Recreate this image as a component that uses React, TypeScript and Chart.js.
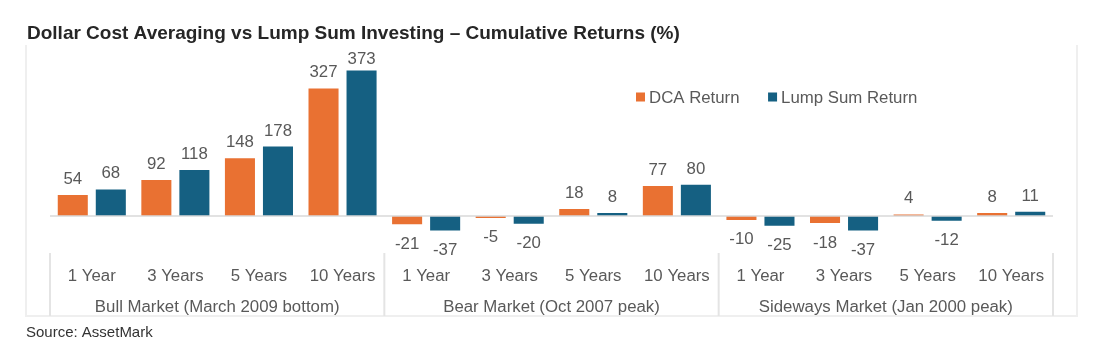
import { useEffect, useRef } from "react";
import { Chart, registerables } from "chart.js";

Chart.register(...registerables);

const titleText = "Dollar Cost Averaging vs Lump Sum Investing – Cumulative Returns (%)";
const sourceText = "Source: AssetMark";
const periods = ["1 Year", "3 Years", "5 Years", "10 Years"];
const markets = [
  "Bull Market (March 2009 bottom)",
  "Bear Market (Oct 2007 peak)",
  "Sideways Market (Jan 2000 peak)",
];
const seriesNames = ["DCA Return", "Lump Sum Return"];
const dcaReturn = [54, 92, 148, 327, -21, -5, 18, 77, -10, -18, 4, 8];
const lumpSumReturn = [68, 118, 178, 373, -37, -20, 8, 80, -25, -37, -12, 11];
const seriesColors = ["#E97132", "#156082"];

const categories: string[] = [];
markets.forEach((m) => periods.forEach((p) => categories.push(m + " | " + p)));

const FONT = "'Liberation Sans', Arial, sans-serif";
const TEXT = "#595959";
const SX = 1.05;

function stretchText(
  ctx: CanvasRenderingContext2D,
  text: string,
  x: number,
  y: number
) {
  ctx.save();
  ctx.translate(x, y);
  ctx.scale(SX, 1);
  ctx.fillText(text, 0, 0);
  ctx.restore();
}

const decorPlugin = {
  id: "decor",
  afterDatasetsDraw(chart: any) {
    const ctx = chart.ctx as CanvasRenderingContext2D;
    const xs = chart.scales.x;
    const ys = chart.scales.y;
    const zeroY = ys.getPixelForValue(0);
    const n = categories.length;
    const catW = (xs.right - xs.left) / n;
    const left = xs.left;
    const right = xs.right;
    ctx.save();

    // outer frame (left, right, bottom)
    ctx.strokeStyle = "#EFEFEF";
    ctx.lineWidth = 2;
    ctx.beginPath();
    ctx.moveTo(26, 45);
    ctx.lineTo(26, 316);
    ctx.lineTo(1077, 316);
    ctx.lineTo(1077, 45);
    ctx.stroke();

    // zero line
    ctx.strokeStyle = "#D9D9D9";
    ctx.lineWidth = 1.5;
    ctx.beginPath();
    ctx.moveTo(left, zeroY);
    ctx.lineTo(right, zeroY);
    ctx.stroke();

    // group separators
    ctx.strokeStyle = "#E4E4E4";
    ctx.lineWidth = 2;
    for (let g = 0; g <= markets.length; g++) {
      const x = left + g * periods.length * catW;
      ctx.beginPath();
      ctx.moveTo(x, 253);
      ctx.lineTo(x, 316);
      ctx.stroke();
    }

    // data labels
    ctx.fillStyle = TEXT;
    ctx.font = `16px ${FONT}`;
    ctx.textAlign = "center";
    ctx.textBaseline = "alphabetic";
    chart.data.datasets.forEach((ds: any, di: number) => {
      const meta = chart.getDatasetMeta(di);
      meta.data.forEach((bar: any, i: number) => {
        const v = ds.data[i];
        const y = v >= 0 ? Math.max(bar.y - 11, 64) : bar.y + 24.5;
        stretchText(ctx, String(v), bar.x, y);
      });
    });

    // category labels
    for (let i = 0; i < n; i++) {
      const x = xs.getPixelForValue(i);
      stretchText(ctx, periods[i % periods.length], x, 280.5);
    }
    // group labels
    markets.forEach((m, g) => {
      const x = left + (g + 0.5) * periods.length * catW;
      stretchText(ctx, m, x, 311.5);
    });

    // legend
    ctx.textAlign = "left";
    let lx = 636;
    seriesNames.forEach((name, i) => {
      ctx.fillStyle = seriesColors[i];
      ctx.fillRect(lx, 92.5, 9, 9);
      ctx.fillStyle = TEXT;
      stretchText(ctx, name, lx + 13, 103.3);
      lx += 13 + ctx.measureText(name).width * SX + 28.5;
    });

    // title
    ctx.fillStyle = "#262626";
    ctx.font = `bold 19px ${FONT}`;
    ctx.fillText(titleText, 27, 39);

    // source
    ctx.fillStyle = "#333333";
    ctx.font = `15px ${FONT}`;
    ctx.fillText(sourceText, 26, 336.5);

    ctx.restore();
  },
};

export default function App() {
  const ref = useRef<HTMLCanvasElement | null>(null);
  useEffect(() => {
    document.body.style.margin = "0";
    const canvas = ref.current!;
    const chart = new Chart(canvas, {
      type: "bar",
      data: {
        labels: categories,
        datasets: [
          {
            label: seriesNames[0],
            data: dcaReturn,
            backgroundColor: seriesColors[0],
            borderWidth: 0,
            categoryPercentage: 0.91,
            barPercentage: 0.79,
          },
          {
            label: seriesNames[1],
            data: lumpSumReturn,
            backgroundColor: seriesColors[1],
            borderWidth: 0,
            categoryPercentage: 0.91,
            barPercentage: 0.79,
          },
        ],
      },
      options: {
        animation: false,
        responsive: false,
        maintainAspectRatio: false,
        devicePixelRatio: 1,
        layout: { padding: { left: 50, right: 42, top: 60, bottom: 99.8 } },
        plugins: {
          legend: { display: false },
          title: { display: false },
          tooltip: { enabled: false },
        },
        scales: {
          x: { display: false },
          y: { display: false, min: -80, max: 400 },
        },
      },
      plugins: [decorPlugin],
    });
    return () => chart.destroy();
  }, []);
  return (
    <div style={{ position: "absolute", left: 0, top: 0, width: 1095, height: 347, background: "#fff" }}>
      <canvas ref={ref} width={1095} height={347} style={{ display: "block" }} />
    </div>
  );
}
